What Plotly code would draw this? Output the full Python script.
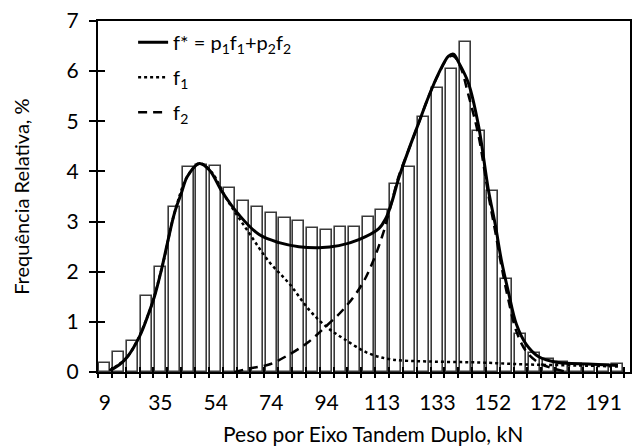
import plotly.graph_objects as go

# ---- data (bin index units: bin k spans k-0.5 .. k+0.5) ----
bin_index = list(range(38))
bar_values = [0.18, 0.39, 0.61, 1.52, 2.10, 3.29, 4.09, 4.12, 4.10, 3.66,
              3.41, 3.29, 3.18, 3.07, 3.01, 2.88, 2.84, 2.89, 2.89, 3.10,
              3.23, 3.75, 4.09, 5.08, 5.67, 6.05, 6.58, 4.80, 3.60, 1.85,
              0.75, 0.38, 0.25, 0.19, 0.15, 0.13, 0.13, 0.15]

tick_positions = [0, 4, 8, 12, 16, 20, 24, 28, 32, 36]
tick_labels = ["9", "35", "54", "74", "94", "113", "133", "152", "172", "191"]

fstar_x = [0.34, 1.06, 1.64, 2.5, 3.08, 3.58, 4.08, 4.51, 5.02, 5.52, 5.95, 6.82,
           7.54, 8.47, 9.69, 11.13, 12.57, 14.0, 15.45, 16.89, 18.33, 19.77,
           20.27, 20.7, 21.2, 21.92, 22.64, 23.36, 24.08, 24.8, 25.16, 25.52,
           26.24, 26.96, 27.68, 28.18, 28.61, 29.12, 29.7, 30.41, 31.28, 32.72,
           34.87, 37.03]
fstar_y = [0.03, 0.15, 0.31, 0.71, 1.11, 1.51, 2.04, 2.57, 3.17, 3.57, 3.90, 4.16,
           4.03, 3.59, 3.13, 2.74, 2.58, 2.50, 2.48, 2.52, 2.64, 2.86,
           3.06, 3.38, 3.86, 4.43, 4.96, 5.49, 5.95, 6.30, 6.34, 6.18,
           5.76, 4.92, 3.63, 2.93, 2.24, 1.60, 0.95, 0.55, 0.31, 0.19,
           0.16, 0.13]

f1_x = [0.34, 1.64, 3.08, 4.08, 5.02, 5.95, 6.82, 7.68, 8.83, 10.41, 11.85,
        13.31, 14.74, 15.95, 17.25, 19.05, 20.7, 23.36, 26.96, 30.56, 34.16, 37.03]
f1_y = [0.03, 0.31, 1.11, 2.04, 3.17, 3.90, 4.16, 3.99, 3.43, 2.77, 2.20,
        1.76, 1.24, 0.91, 0.66, 0.37, 0.25, 0.21, 0.19, 0.15, 0.13, 0.11]

f2_x = [9.34, 10.41, 11.85, 13.31, 14.74, 15.95, 17.25, 18.54, 19.4, 20.12,
        20.7, 21.2, 21.92, 22.64, 23.36, 24.08, 24.8, 25.16, 25.67, 26.24,
        26.96, 27.68, 28.18, 28.61, 29.12, 29.7, 30.41, 31.28, 32.36, 33.44]
f2_y = [0.0, 0.07, 0.15, 0.35, 0.61, 0.91, 1.26, 1.74, 2.24, 2.80,
        3.39, 3.90, 4.43, 4.96, 5.49, 5.94, 6.28, 6.30, 6.08, 5.52,
        4.72, 3.53, 2.79, 2.13, 1.44, 0.81, 0.41, 0.19, 0.07, 0.0]

bin_edges = [k - 0.5 for k in range(39)]
y_ticks = [0, 1, 2, 3, 4, 5, 6, 7]

FONT = "Lato"
XR = [-0.5, 37.9]
YR = [0, 7]

fig = go.Figure()
fig.add_trace(go.Bar(x=bin_index, y=bar_values, width=0.8,
                     marker=dict(color="white", line=dict(color="#3a3a3a", width=1.6)),
                     showlegend=False, hoverinfo="skip"))
fig.add_trace(go.Scatter(x=fstar_x, y=fstar_y, mode="lines", legendgroup="a",
                         line=dict(color="black", width=3, shape="spline"),
                         name="f* = p<sub>1</sub>f<sub>1</sub>+p<sub>2</sub>f<sub>2</sub>"))
fig.add_trace(go.Scatter(x=f1_x, y=f1_y, mode="lines", legendgroup="b",
                         line=dict(color="black", width=2.5, dash="dot", shape="spline"),
                         name="f<sub>1</sub>"))
fig.add_trace(go.Scatter(x=f2_x, y=f2_y, mode="lines", legendgroup="c",
                         line=dict(color="black", width=2.5, dash="9px,6px", shape="spline"),
                         name="f<sub>2</sub>"))
# helper traces so the tick-only overlay axes are drawn
fig.add_trace(go.Scatter(x=[None], y=[None], xaxis="x2", yaxis="y", showlegend=False, hoverinfo="skip"))
fig.add_trace(go.Scatter(x=[None], y=[None], xaxis="x3", yaxis="y", showlegend=False, hoverinfo="skip"))
fig.add_trace(go.Scatter(x=[None], y=[None], xaxis="x", yaxis="y2", showlegend=False, hoverinfo="skip"))

fig.update_layout(
    width=634, height=446,
    margin=dict(l=98, r=2, t=21, b=74),
    paper_bgcolor="white", plot_bgcolor="white",
    font=dict(family=FONT, size=21, color="black"),
    bargap=0,
    xaxis=dict(range=XR, tickmode="array", tickvals=tick_positions, ticktext=tick_labels,
               ticks="", ticklabelstandoff=11, showline=True, linewidth=2, linecolor="black",
               mirror=True, showgrid=False, zeroline=False,
               tickfont=dict(family=FONT, size=21)),
    xaxis2=dict(range=XR, overlaying="x", anchor="y", side="bottom", tickmode="array",
                tickvals=bin_edges, ticks="outside", ticklen=5, tickwidth=2, tickcolor="black",
                showticklabels=False, showline=False, showgrid=False, zeroline=False),
    xaxis3=dict(range=XR, overlaying="x", anchor="y", side="bottom", tickmode="array",
                tickvals=bin_edges, ticks="inside", ticklen=5, tickwidth=2, tickcolor="black",
                showticklabels=False, showline=False, showgrid=False, zeroline=False),
    yaxis=dict(range=YR, tickmode="array", tickvals=y_ticks, ticks="outside", ticklen=7,
               tickwidth=1.5, tickcolor="black", ticklabelstandoff=6,
               showline=True, linewidth=2, linecolor="black", mirror=True,
               showgrid=False, zeroline=False, tickfont=dict(family=FONT, size=21)),
    yaxis2=dict(range=YR, overlaying="y", anchor="x", side="left", tickmode="array",
                tickvals=y_ticks, ticks="inside", ticklen=7, tickwidth=1.5, tickcolor="black",
                showticklabels=False, showline=False, showgrid=False, zeroline=False),
    legend=dict(x=0.066, y=0.995, xanchor="left", yanchor="top", bgcolor="rgba(0,0,0,0)",
                font=dict(family=FONT, size=20), tracegroupgap=6, traceorder="grouped"),
    annotations=[
        dict(text="Peso por Eixo Tandem Duplo, kN", xref="paper", yref="paper",
             x=0.517, y=-0.133, xanchor="center", yanchor="top", showarrow=False,
             font=dict(family=FONT, size=21)),
        dict(text="Frequência Relativa, %", xref="paper", yref="paper",
             x=-0.146, y=0.5, xanchor="center", yanchor="middle", showarrow=False,
             textangle=-90, font=dict(family=FONT, size=20)),
    ],
)

fig.write_html("out.html")
